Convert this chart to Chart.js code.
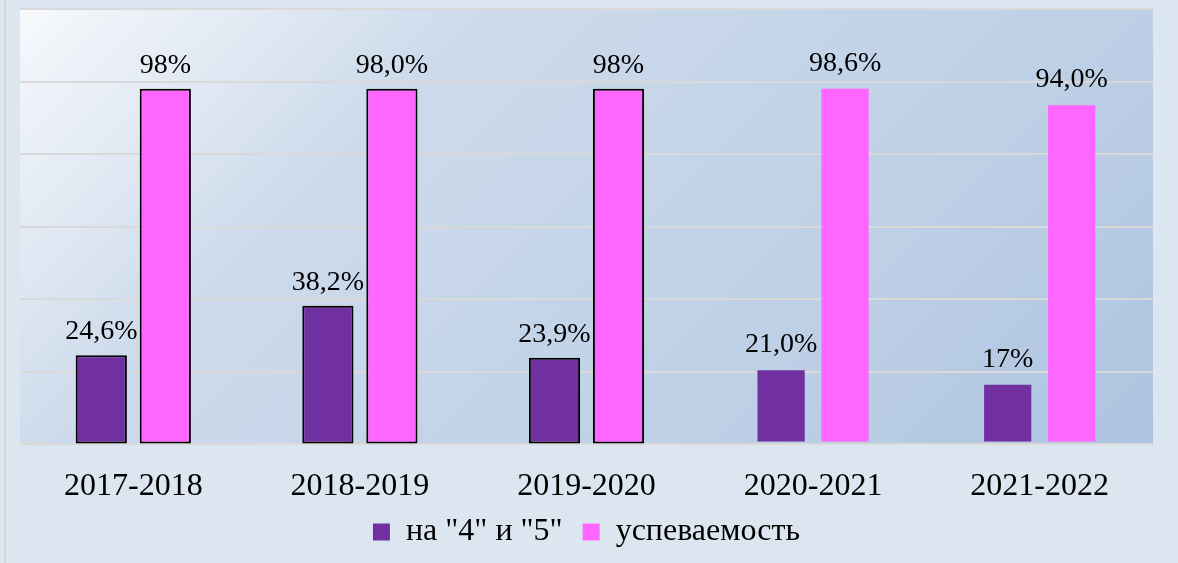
<!DOCTYPE html>
<html>
<head>
<meta charset="utf-8">
<script src="https://cdn.jsdelivr.net/npm/chart.js@4/dist/chart.umd.min.js"></script>
<style>
  html, body { margin: 0; padding: 0; background: #dce6f0; }
  #wrap { width: 1178px; height: 563px; position: relative; }
</style>
</head>
<body>
<div id="wrap"><canvas id="chart"></canvas></div>
<script>
// school years
const years = ['2017-2018', '2018-2019', '2019-2020', '2020-2021', '2021-2022'];
// quality ("4" and "5") and pass rate, percent
const quality = [24.6, 38.2, 23.9, 21.0, 17];
const passRate = [98, 98.0, 98, 98.6, 94.0];
// labels exactly as printed above the bars
const qualityLabels = ['24,6%', '38,2%', '23,9%', '21,0%', '17%'];
const passLabels = ['98%', '98,0%', '98%', '98,6%', '94,0%'];
const yTicks = [0, 20, 40, 60, 80, 100, 120];

// first three years have outlined bars, the last two don't
const outline = ['#000', '#000', '#000', 'rgba(0,0,0,0)', 'rgba(0,0,0,0)'];

const serif = '"Liberation Serif", "Times New Roman", serif';

// gradient plot background + thin frame line on the left
const backdrop = {
  id: 'backdrop',
  beforeDraw(chart) {
    const { ctx, chartArea: a } = chart;
    ctx.save();
    ctx.fillStyle = '#d5d6dc';
    ctx.fillRect(4, 0, 2, chart.height);
    const w = a.right - a.left, h = a.bottom - a.top;
    const d = (w + h) / 2;
    const g = ctx.createLinearGradient(a.left, a.top, a.left + d, a.top + d);
    g.addColorStop(0, '#f7f9fc');
    g.addColorStop(0.3, '#cddaeb');
    g.addColorStop(0.7, '#bed0e6');
    g.addColorStop(1, '#adc3df');
    ctx.fillStyle = g;
    ctx.fillRect(a.left, a.top, w, h);
    ctx.restore();
  }
};

// value labels above bars
const barLabels = {
  id: 'barLabels',
  afterDatasetsDraw(chart) {
    const { ctx } = chart;
    const texts = [qualityLabels, passLabels];
    ctx.save();
    ctx.font = '28px ' + serif;
    ctx.fillStyle = '#000';
    ctx.textAlign = 'center';
    ctx.textBaseline = 'alphabetic';
    chart.data.datasets.forEach((ds, i) => {
      chart.getDatasetMeta(i).data.forEach((bar, j) => {
        ctx.fillText(texts[i][j], bar.x, bar.y - 16);
      });
    });
    ctx.restore();
  }
};

new Chart(document.getElementById('chart'), {
  type: 'bar',
  data: {
    labels: years,
    datasets: [
      {
        label: 'на "4" и "5"',
        data: quality,
        backgroundColor: '#7030a0',
        borderColor: outline,
        borderWidth: 2,
        borderSkipped: false
      },
      {
        label: 'успеваемость',
        data: passRate,
        backgroundColor: '#ff66ff',
        borderColor: outline,
        borderWidth: 2,
        borderSkipped: false
      }
    ]
  },
  options: {
    responsive: true,
    maintainAspectRatio: false,
    animation: false,
    devicePixelRatio: 1,
    categoryPercentage: 0.565,
    barPercentage: 0.8,
    layout: { padding: { left: 20, right: 25, top: 9, bottom: 5 } },
    scales: {
      x: {
        grid: { display: false },
        border: { display: false },
        afterFit(scale) { scale.height = 51.6; },
        ticks: {
          color: '#000',
          padding: 15,
          font: { family: serif, size: 32 }
        }
      },
      y: {
        min: 0,
        max: 120,
        afterBuildTicks(scale) { scale.ticks = yTicks.map(v => ({ value: v })); },
        afterFit(scale) { scale.width = 0; },
        ticks: { display: false },
        border: { display: false },
        grid: { color: '#d9d9d9', lineWidth: 2, drawTicks: false }
      }
    },
    plugins: {
      legend: {
        position: 'bottom',
        labels: {
          color: '#000',
          boxWidth: 17,
          boxHeight: 17,
          padding: 20,
          font: { family: serif, size: 32 },
          generateLabels(chart) {
            return chart.data.datasets.map((ds, i) => ({
              text: ds.label,
              fillStyle: ds.backgroundColor,
              strokeStyle: ds.backgroundColor,
              lineWidth: 0,
              datasetIndex: i
            }));
          }
        }
      },
      tooltip: { enabled: false }
    }
  },
  plugins: [backdrop, barLabels]
});
</script>
</body>
</html>
